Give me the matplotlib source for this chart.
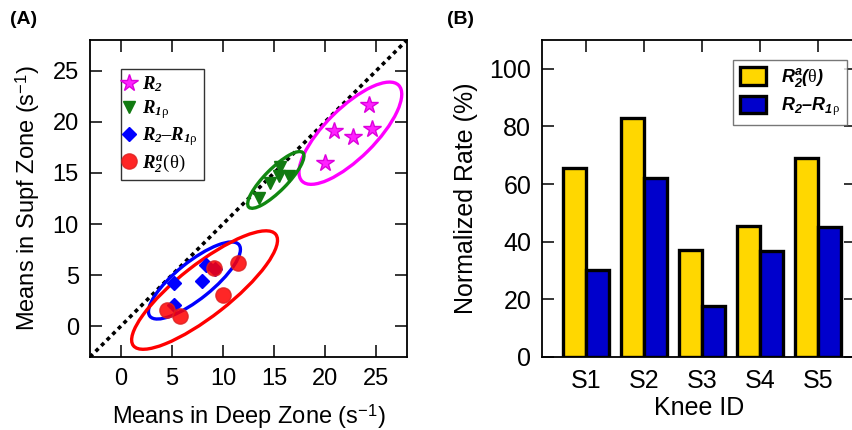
import numpy as np
import matplotlib
matplotlib.use('Agg')
import matplotlib.pyplot as plt
from matplotlib.patches import Ellipse

plt.rcParams['font.family'] = ['Liberation Sans', 'DejaVu Sans']
plt.rcParams['mathtext.fontset'] = 'custom'
plt.rcParams['mathtext.rm'] = 'Liberation Serif'
plt.rcParams['mathtext.it'] = 'Liberation Serif:italic:bold'
plt.rcParams['mathtext.bf'] = 'Liberation Serif:italic:bold'
plt.rcParams['mathtext.sf'] = 'Liberation Sans:italic:bold'
plt.rcParams['mathtext.tt'] = 'Liberation Sans'

# panel A: means in deep zone (x) vs superficial zone (y)
r2_deep = [24.25, 20.82, 22.71, 24.6, 19.94]
r2_supf = [21.64, 19.09, 18.47, 19.29, 15.93]
r1rho_deep = [13.54, 14.65, 15.53, 15.63, 16.51]
r1rho_supf = [12.57, 13.97, 14.72, 15.6, 14.72]
diff_deep = [8.36, 5.26, 8.0, 5.26, 9.2]
diff_supf = [5.97, 4.28, 4.44, 2.06, 5.65]
r2a_deep = [9.14, 11.52, 9.99, 4.57, 5.81]
r2a_supf = [5.75, 6.24, 3.1, 1.63, 1.01]

# panel B: normalized rate per knee
knees = ['S1', 'S2', 'S3', 'S4', 'S5']
rate_r2a = [65.6, 83.0, 37.2, 45.4, 69.0]
rate_diff = [30.1, 62.0, 17.6, 36.7, 45.0]


def conf_ellipse(ax, x, y, color, n_std=2.447):
    # 95% confidence ellipse from the sample covariance
    x = np.asarray(x)
    y = np.asarray(y)
    cov = np.cov(x, y)
    vals, vecs = np.linalg.eigh(cov)
    order = vals.argsort()[::-1]
    vals, vecs = vals[order], vecs[:, order]
    ang = np.degrees(np.arctan2(vecs[1, 0], vecs[0, 0]))
    w, h = 2 * n_std * np.sqrt(vals)
    e = Ellipse((x.mean(), y.mean()), w, h, angle=ang, fill=False,
                edgecolor=color, lw=2.4, zorder=2)
    ax.add_patch(e)


fig = plt.figure(figsize=(8.53, 4.30), dpi=100)
ax1 = fig.add_axes([0.1055, 0.1698, 0.3716, 0.7372])
ax2 = fig.add_axes([0.6358, 0.1698, 0.3677, 0.7372])

# ---- panel A ----
ax1.plot([-3, 28], [-3, 28], color='black', lw=2.6, ls=(0, (1.1, 1.1)), zorder=1)
conf_ellipse(ax1, r2_deep, r2_supf, '#ff00ff')
conf_ellipse(ax1, r1rho_deep, r1rho_supf, '#118811')
conf_ellipse(ax1, diff_deep, diff_supf, '#0000ff')
conf_ellipse(ax1, r2a_deep, r2a_supf, '#ff0000')

ax1.plot(r2_deep, r2_supf, ls='none', marker='*', ms=13, color='#ff22ff',
         mec='#dd00dd', label=r'$R_{\mathbf{2}}$', zorder=3)
ax1.plot(r1rho_deep, r1rho_supf, ls='none', marker='v', ms=9, color='#117a11',
         label=r'$R_{\mathbf{1}\mathrm{\rho}}$', zorder=3)
ax1.plot(diff_deep, diff_supf, ls='none', marker='D', ms=7, color='#0000ff',
         label='$R_{\\mathbf{2}}\\mathbf{–}R_{\\mathbf{1}\\mathrm{\\rho}}$', zorder=3)
ax1.plot(r2a_deep, r2a_supf, ls='none', marker='o', ms=11, color='#ff0000',
         mec='#dd2222', alpha=0.85, label=r'$R^{a}_{\mathbf{2}}\mathrm{(\theta)}$', zorder=4)

ax1.set_xlim(-3, 28)
ax1.set_ylim(-3, 28)
ax1.set_xticks([0, 5, 10, 15, 20, 25])
ax1.set_yticks([0, 5, 10, 15, 20, 25])
ax1.tick_params(direction='in', length=8.5, width=1.1, top=True, right=True,
                labelsize=17, pad=8)
ax1.set_xlabel(r'Means in Deep Zone (s$^{\mathtt{-1}}$)', fontsize=17, labelpad=9)
ax1.set_ylabel(r'Means in Supf Zone (s$^{\mathtt{-1}}$)', fontsize=17, labelpad=8)
leg1 = ax1.legend(loc='upper left', bbox_to_anchor=(0.097, 0.9085), fontsize=13.5,
                  frameon=True, fancybox=False, edgecolor='black', handletextpad=0.55,
                  handlelength=0.3, borderpad=0.3, labelspacing=0.22, borderaxespad=0)
leg1.get_frame().set_linewidth(1.0)
for sp in ax1.spines.values():
    sp.set_linewidth(1.3)

# ---- panel B ----
pos = np.arange(1, len(knees) + 1)
bw = 0.4
ax2.bar(pos - bw / 2, rate_r2a, bw, color='#ffd700', edgecolor='black', lw=2.4,
        label=r'$\mathsf{R^a_2(}\mathrm{\theta}\mathsf{)}$', zorder=2)
ax2.bar(pos + bw / 2, rate_diff, bw, color='#0000cc', edgecolor='black', lw=2.4,
        label='$\\mathsf{R_2–R_{1}}_{\\mathrm{\\rho}}$', zorder=2)
ax2.set_xlim(0.2485, 5.66)
ax2.set_ylim(0, 110)
ax2.set_xticks(pos)
ax2.set_xticklabels(knees)
ax2.set_yticks([0, 20, 40, 60, 80, 100])
ax2.tick_params(direction='in', length=8.5, width=1.1, top=True, right=True,
                labelsize=18, pad=8)
ax2.tick_params(axis='x', pad=9)
ax2.set_xlabel('Knee ID', fontsize=18, labelpad=2)
ax2.set_ylabel('Normalized Rate (%)', fontsize=18, labelpad=8)
leg2 = ax2.legend(loc='upper right', bbox_to_anchor=(0.971, 0.937), fontsize=13,
                  frameon=True, fancybox=False, edgecolor='#555555', handlelength=1.45,
                  handleheight=1.1, handletextpad=0.85, borderpad=0.35,
                  labelspacing=0.35, borderaxespad=0)
leg2.get_frame().set_linewidth(1.0)
for sp in ax2.spines.values():
    sp.set_linewidth(1.3)

fig.text(0.012, 0.945, '(A)', fontsize=14, fontweight='bold')
fig.text(0.524, 0.945, '(B)', fontsize=14, fontweight='bold')

fig.savefig('out.png', dpi=100)
